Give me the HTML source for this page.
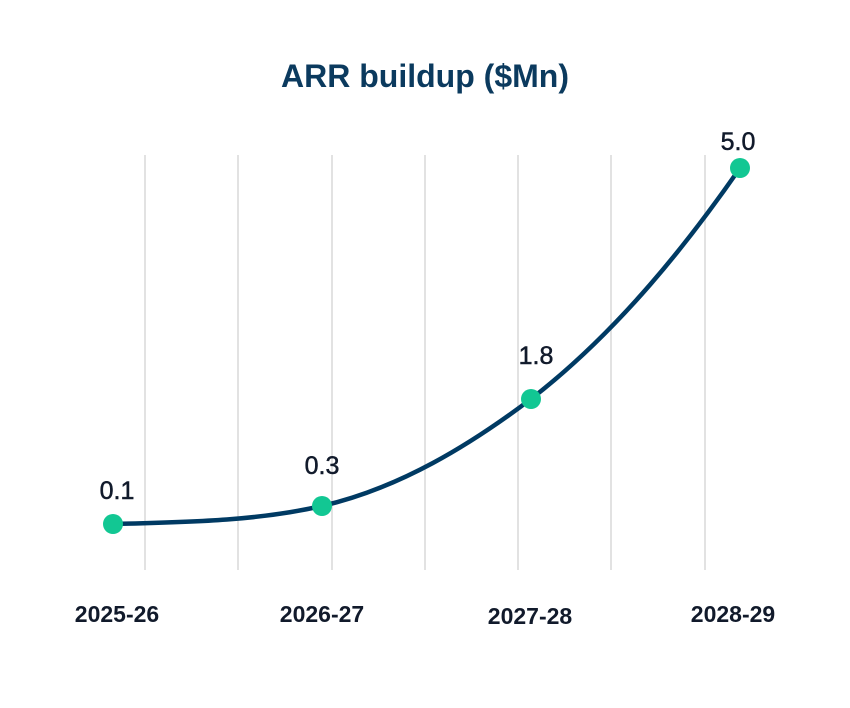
<!DOCTYPE html>
<html><head><style>body{margin:0;background:#fff}</style></head><body>
<svg width="850" height="708" xmlns="http://www.w3.org/2000/svg" style="display:block">
<text x="425" y="87" text-anchor="middle" font-family="Liberation Sans, sans-serif" font-weight="bold" font-size="32" fill="#0b3a5e">ARR buildup ($Mn)</text>
<g stroke="#e2e2e2" stroke-width="2">
<line x1="145" y1="155" x2="145" y2="570"/><line x1="238" y1="155" x2="238" y2="570"/>
<line x1="332" y1="155" x2="332" y2="570"/><line x1="425" y1="155" x2="425" y2="570"/>
<line x1="518" y1="155" x2="518" y2="570"/><line x1="611" y1="155" x2="611" y2="570"/>
<line x1="705" y1="155" x2="705" y2="570"/>
</g>
<path d="M113,524 C200,522 260,520 322,506 C400,488 470,445 531,399 C620,330 690,240 740,168" fill="none" stroke="#003a63" stroke-width="4.5"/>
<g fill="#12c793">
<circle cx="113" cy="524" r="10"/><circle cx="322" cy="506" r="10"/><circle cx="531" cy="399" r="10"/><circle cx="740" cy="168" r="10"/>
</g>
<g font-family="Liberation Sans, sans-serif" font-size="25" fill="#111a2b" text-anchor="middle" stroke="#111a2b" stroke-width="0.5">
<text x="117" y="499">0.1</text><text x="322" y="474">0.3</text><text x="536" y="364">1.8</text><text x="738" y="150">5.0</text>
</g>
<g font-family="Liberation Sans, sans-serif" font-weight="bold" font-size="23" fill="#111a2b" text-anchor="middle">
<text x="117" y="622">2025-26</text><text x="322" y="622">2026-27</text><text x="530" y="624">2027-28</text><text x="733" y="622">2028-29</text>
</g>
</svg>
</body></html>
